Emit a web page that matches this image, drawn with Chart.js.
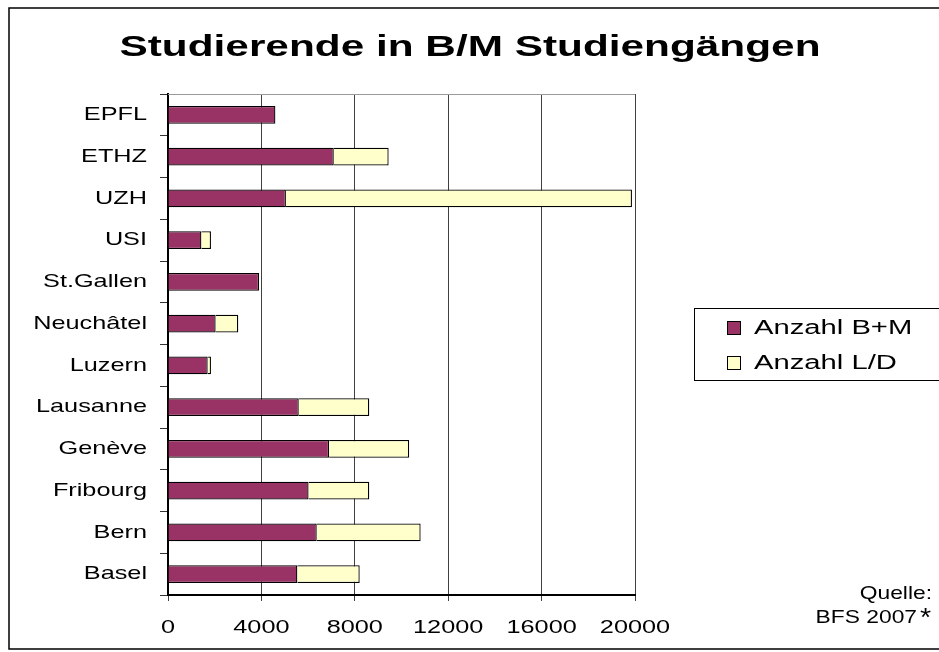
<!DOCTYPE html>
<html>
<head>
<meta charset="utf-8">
<script src="https://cdn.jsdelivr.net/npm/chart.js@4/dist/chart.umd.min.js"></script>
<style>
  body { margin: 0; background: #fff; }
  canvas { display: block; background: #fff; }
</style>
</head>
<body>
<canvas id="myChart" width="939" height="652"></canvas>
<script>
const labels = ['EPFL', 'ETHZ', 'UZH', 'USI', 'St.Gallen', 'Neuchâtel', 'Luzern', 'Lausanne', 'Genève', 'Fribourg', 'Bern', 'Basel'];
const anzahlBM = [4600, 7100, 5050, 1430, 3900, 2040, 1700, 5600, 6900, 6020, 6370, 5540];
const anzahlLD = [0, 2350, 14820, 410, 0, 970, 140, 3020, 3430, 2600, 4450, 2670];
const xTicks = [0, 4000, 8000, 12000, 16000, 20000];
const titleText = 'Studierende in B/M Studiengängen';
const sourceLines = ['Quelle:', 'BFS 2007'];

// the original picture has its text stretched sideways, so every fillText is widened
let stretch = 1.33;

const deco = {
  id: 'deco',
  beforeDraw(chart) {
    const ctx = chart.ctx;
    if (!ctx._origFill) {
      ctx._origFill = ctx.fillText;
      ctx.fillText = function (t, x, y) {
        this.save();
        this.translate(x, y);
        this.scale(stretch, 1);
        this._origFill(t, 0, 0);
        this.restore();
      };
    }
    stretch = 1.33;
  },
  afterDraw(chart) {
    const ctx = chart.ctx;
    const area = chart.chartArea;
    ctx.save();

    // outer frame
    ctx.strokeStyle = '#000';
    ctx.lineWidth = 1.5;
    ctx.strokeRect(9, 8, 960, 641);

    // top border of plot
    ctx.strokeStyle = '#9a9a9a';
    ctx.lineWidth = 1;
    ctx.beginPath();
    ctx.moveTo(area.left, area.top + 0.5);
    ctx.lineTo(area.right, area.top + 0.5);
    ctx.stroke();

    // title
    ctx.fillStyle = '#000';
    ctx.font = 'bold 29px "Liberation Sans"';
    ctx.textAlign = 'center';
    ctx.textBaseline = 'alphabetic';
    stretch = 1.46;
    ctx.fillText(titleText, 470, 56);

    // legend
    ctx.strokeStyle = '#000';
    ctx.lineWidth = 1;
    ctx.strokeRect(694.5, 308.5, 260, 72);
    ctx.font = '20px "Liberation Sans"';
    ctx.textAlign = 'left';
    chart.data.datasets.forEach((ds, i) => {
      const y = 321.5 + i * 35;
      ctx.fillStyle = ds.backgroundColor;
      ctx.fillRect(727.5, y, 13, 13);
      ctx.strokeRect(727.5, y, 13, 13);
      ctx.fillStyle = '#000';
      ctx.fillText(ds.label, 754, 334 + i * 35);
    });

    // source
    stretch = 1.2;
    ctx.font = '19px "Liberation Sans"';
    ctx.textAlign = 'right';
    ctx.fillText(sourceLines[0], 932, 599);
    ctx.fillText(sourceLines[1], 917, 623);
    ctx.font = '26px "Liberation Sans"';
    ctx.textAlign = 'left';
    stretch = 1.1;
    ctx.fillText('*', 920, 626);

    ctx.restore();
    stretch = 1.33;
  }
};

new Chart(document.getElementById('myChart'), {
  type: 'bar',
  data: {
    labels: labels,
    datasets: [
      {
        label: 'Anzahl B+M',
        data: anzahlBM,
        backgroundColor: '#993366',
        borderColor: '#000',
        borderWidth: 1.3
      },
      {
        label: 'Anzahl L/D',
        data: anzahlLD,
        backgroundColor: '#ffffcc',
        borderColor: '#000',
        borderWidth: 1.3
      }
    ]
  },
  options: {
    indexAxis: 'y',
    responsive: false,
    animation: false,
    layout: { padding: { top: 94, right: 304, bottom: 0, left: 0 } },
    barPercentage: 0.43,
    categoryPercentage: 1,
    plugins: {
      legend: { display: false },
      title: { display: false },
      tooltip: { enabled: false }
    },
    scales: {
      x: {
        stacked: true,
        min: 0,
        max: 20000,
        afterBuildTicks: (scale) => { scale.ticks = xTicks.map(v => ({ value: v })); },
        afterFit: (scale) => { scale.height = 57; },
        ticks: {
          color: '#000',
          padding: 15,
          maxRotation: 0,
          autoSkip: false,
          font: { family: '"Liberation Sans"', size: 19 },
          callback: (v) => String(v)
        },
        grid: { color: '#404040', lineWidth: 1, tickLength: 6 },
        border: { color: '#000', width: 2 }
      },
      y: {
        stacked: true,
        afterFit: (scale) => { scale.width = 168; },
        ticks: {
          color: '#000',
          padding: 13,
          autoSkip: false,
          font: { family: '"Liberation Sans"', size: 19 }
        },
        grid: { drawOnChartArea: false, drawTicks: true, tickLength: 8, color: '#333' },
        border: { color: '#000', width: 2 }
      }
    }
  },
  plugins: [deco]
});
</script>
</body>
</html>
